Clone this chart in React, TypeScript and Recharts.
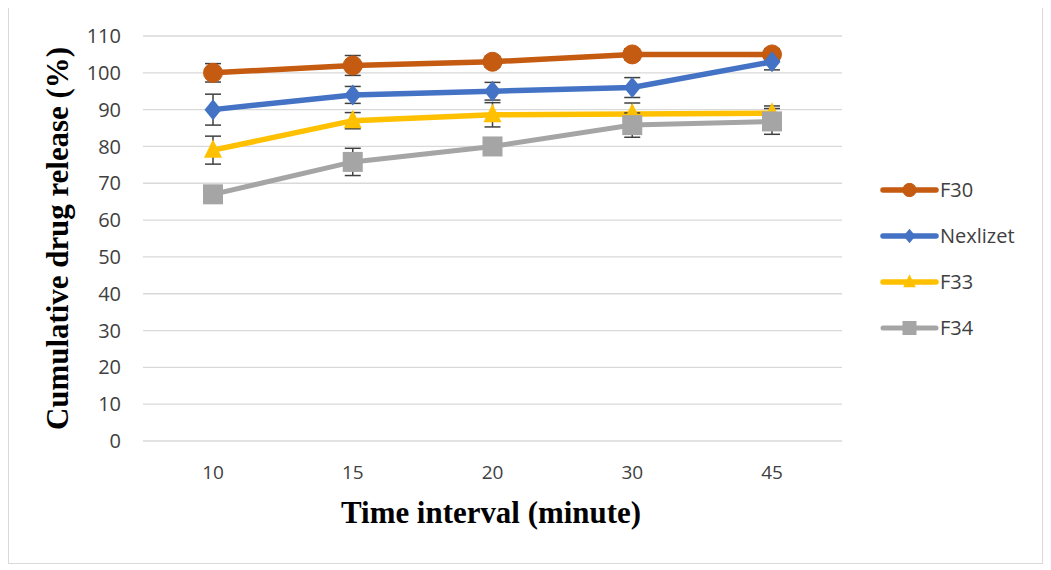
import React from "react";
import { LineChart, Line, XAxis, YAxis, CartesianGrid, ErrorBar, Label } from "recharts";

const categories = ["10", "15", "20", "30", "45"];
const f30 = [100, 102, 103, 105, 105];
const nexlizet = [90, 94, 95, 96, 103];
const f33 = [79, 87, 88.6, 88.8, 89];
const f34 = [67, 75.8, 80, 85.8, 86.8];
const f30Err = [2.5, 2.7, 1.5, 1.5, 1.5];
const nexErr = [4.2, 2.3, 2.4, 2.7, 2.2];
const f33Err = [3.8, 2.2, 3.3, 3, 2];
const f34Err = [2, 3.7, 2, 3.3, 3.5];
const yTicks = [0, 10, 20, 30, 40, 50, 60, 70, 80, 90, 100, 110];

const data = categories.map((c, i) => ({
  t: c,
  F30: f30[i],
  F30e: f30Err[i],
  Nexlizet: nexlizet[i],
  Nexe: nexErr[i],
  F33: f33[i],
  F33e: f33Err[i],
  F34: f34[i],
  F34e: f34Err[i],
}));

const C_F30 = "#C55A11";
const C_NEX = "#4472C4";
const C_F33 = "#FFC000";
const C_F34 = "#A5A5A5";

const Marker = ({ type, cx, cy, color, s = 1 }: any) => {
  if (cx == null || cy == null) return null;
  if (type === "circle") return <circle cx={cx} cy={cy} r={9.5 * s} fill={color} stroke={color} />;
  if (type === "diamond")
    return (
      <polygon
        points={`${cx},${cy - 10.5 * s} ${cx + 8.5 * s},${cy} ${cx},${cy + 10.5 * s} ${cx - 8.5 * s},${cy}`}
        fill={color}
      />
    );
  if (type === "triangle")
    return (
      <polygon
        points={`${cx},${cy - 11 * s} ${cx + 9 * s},${cy + 7.5 * s} ${cx - 9 * s},${cy + 7.5 * s}`}
        fill={color}
      />
    );
  return <rect x={cx - 10 * s} y={cy - 10 * s} width={20 * s} height={20 * s} fill={color} />;
};

const series = [
  { key: "F30", err: "F30e", color: C_F30, type: "circle", w: 5.5 },
  { key: "Nexlizet", err: "Nexe", color: C_NEX, type: "diamond", w: 5.5 },
  { key: "F33", err: "F33e", color: C_F33, type: "triangle", w: 5.5 },
  { key: "F34", err: "F34e", color: C_F34, type: "square", w: 5 },
];

const LegendBox = () => (
  <div
    style={{
      position: "absolute",
      left: 870,
      top: 159,
      fontFamily: "'Open Sans', sans-serif",
      fontSize: 20,
      color: "#404040",
    }}
  >
    {series.map((s) => (
      <div key={s.key} style={{ display: "flex", alignItems: "center", height: 46 }}>
        <svg width={60} height={20}>
          <line x1={4} y1={10} x2={57} y2={10} stroke={s.color} strokeWidth={s.w} strokeLinecap="round" />
          <Marker type={s.type} cx={30.5} cy={10} color={s.color} s={0.7} />
        </svg>
        <span style={{ marginLeft: 1, lineHeight: "20px" }}>{s.key}</span>
      </div>
    ))}
  </div>
);

const titleStyle = {
  fontFamily: "'Liberation Serif', 'Times New Roman', serif",
  fontWeight: "bold" as const,
  fontSize: 32,
  fill: "#000",
};

export default function App() {
  return (
    <div
      style={{
        position: "relative",
        width: 1033,
        height: 555,
        border: "1px solid #d9d9d9",
        marginTop: -1,
        background: "#fff",
      }}
    >
      <LineChart width={1033} height={555} data={data} margin={{ top: 28, right: 200, bottom: 92, left: 74 }}>
        <CartesianGrid vertical={false} stroke="#d9d9d9" strokeWidth={1.3} />
        <XAxis
          dataKey="t"
          axisLine={false}
          tickLine={false}
          tickSize={0}
          tickMargin={25}
          height={30}
          padding={{ left: 70, right: 70 }}
          tick={{ fill: "#404040", fontSize: 19, fontFamily: "'Open Sans', sans-serif" }}
        >
          <Label
            content={() => (
              <text x={332} y={515} textAnchor="start" textLength={300} lengthAdjust="spacingAndGlyphs" style={titleStyle}>
                Time interval (minute)
              </text>
            )}
          />
        </XAxis>
        <YAxis
          domain={[0, 110]}
          ticks={yTicks}
          interval={0}
          axisLine={false}
          tickLine={false}
          tickSize={0}
          tickMargin={22}
          width={60}
          tick={{ fill: "#404040", fontSize: 20, fontFamily: "'Open Sans', sans-serif" }}
        >
          <Label
            content={() => {
              const x = 59;
              const y = 230.5;
              return (
                <text
                  x={x}
                  y={y}
                  transform={`rotate(-90 ${x} ${y})`}
                  textAnchor="middle"
                  textLength={383}
                  lengthAdjust="spacingAndGlyphs"
                  style={titleStyle}
                >
                  Cumulative drug release (%)
                </text>
              );
            }}
          />
        </YAxis>
        {series.map((s) => (
          <Line
            key={s.key}
            dataKey={s.key}
            stroke={s.color}
            strokeWidth={s.w}
            isAnimationActive={false}
            dot={(p: any) => <Marker key={`${s.key}-${p.index}`} type={s.type} cx={p.cx} cy={p.cy} color={s.color} />}
            activeDot={false}
          >
            <ErrorBar dataKey={s.err} width={8} stroke="#404040" strokeWidth={1.5} direction="y" />
          </Line>
        ))}
      </LineChart>
      <LegendBox />
    </div>
  );
}
